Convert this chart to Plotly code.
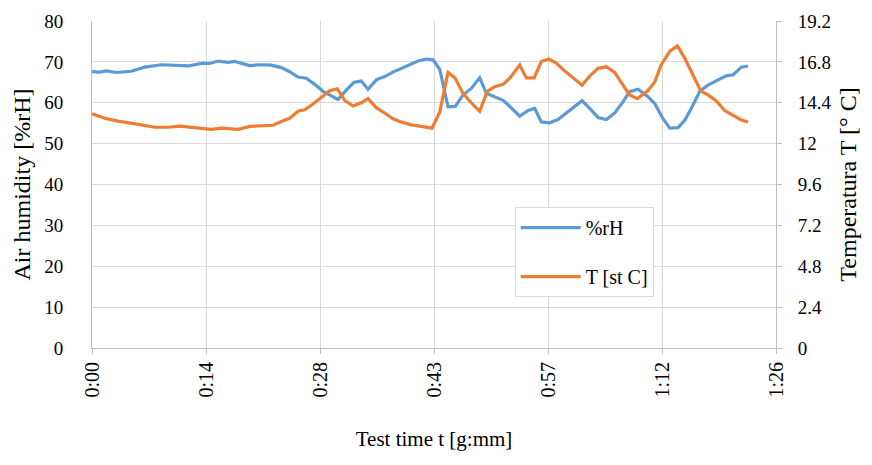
import plotly.graph_objects as go

# time in minutes
t_rh = [0.0, 0.97, 1.81, 3.07, 4.96, 6.66, 8.75, 10.86, 12.13, 14.02, 14.87, 15.92, 17.18, 18.03,
        18.86, 19.92, 21.18, 22.65, 23.91, 24.97, 26.02, 27.07, 28.13, 29.18, 30.23, 31.07, 32.12,
        33.10, 34.02, 34.86, 35.91, 36.97, 38.02, 39.07, 40.13, 41.18, 42.23, 43.07, 43.92, 44.46,
        44.97, 45.89, 46.86, 47.91, 48.97, 49.81, 50.87, 51.92, 52.55, 54.03, 55.08, 55.92, 56.76,
        57.82, 58.86, 60.13, 60.97, 61.90, 62.87, 63.92, 64.97, 66.03, 67.07, 67.92, 68.97, 70.23,
        71.08, 72.13, 72.98, 74.03, 74.87, 75.70, 76.77, 77.81, 79.08, 80.12, 80.97, 82.02, 82.87]
rh = [67.6, 67.5, 67.8, 67.4, 67.7, 68.7, 69.3, 69.0, 69.0, 69.7, 69.6, 70.2, 69.9, 70.1,
      69.7, 69.1, 69.3, 69.2, 68.6, 67.6, 66.3, 66.0, 64.5, 62.8, 61.7, 60.8, 63.1,
      65.0, 65.3, 63.3, 65.6, 66.4, 67.5, 68.4, 69.2, 70.2, 70.7, 70.5, 68.2, 63.5,
      59.0, 59.1, 61.9, 63.5, 66.1, 62.3, 61.4, 60.6, 59.5, 56.7, 58.1, 58.6, 55.3,
      55.1, 55.9, 57.9, 59.1, 60.5, 58.6, 56.4, 55.9, 57.5, 60.2, 62.7, 63.3, 61.5,
      59.8, 56.1, 53.8, 53.9, 55.7, 58.6, 62.8, 64.3, 65.6, 66.6, 66.8, 68.7, 69.0]

t_temp = [0.0, 1.60, 3.28, 4.96, 6.23, 7.92, 9.60, 11.08, 12.54, 14.24, 15.07, 16.33, 17.39, 18.44,
          19.92, 21.39, 22.86, 23.91, 24.97, 26.02, 26.87, 27.92, 28.97, 30.03, 30.99, 31.92, 32.97,
          34.02, 34.86, 35.91, 36.97, 38.02, 39.07, 40.33, 41.60, 42.95, 43.92, 44.46, 44.97, 45.89,
          46.86, 47.91, 48.97, 49.93, 50.87, 51.92, 52.77, 54.03, 54.86, 55.84, 56.76, 57.69, 58.65,
          59.71, 60.97, 61.90, 62.87, 63.92, 64.97, 66.03, 67.07, 67.92, 68.88, 69.82, 70.23, 71.08,
          71.91, 72.98, 73.94, 74.87, 75.92, 76.89, 77.81, 78.86, 79.92, 80.97, 82.02, 82.87]
temp = [13.75, 13.49, 13.32, 13.22, 13.10, 12.96, 12.96, 13.03, 12.96, 12.86, 12.84, 12.91, 12.89, 12.84,
        13.01, 13.06, 13.08, 13.30, 13.49, 13.90, 13.99, 14.33, 14.71, 15.10, 15.22, 14.54, 14.21,
        14.40, 14.64, 14.11, 13.80, 13.46, 13.27, 13.10, 13.01, 12.91, 13.85, 15.14, 16.18, 15.84,
        14.95, 14.40, 13.90, 15.07, 15.34, 15.48, 15.84, 16.61, 15.86, 15.86, 16.82, 16.97, 16.73,
        16.27, 15.77, 15.43, 15.96, 16.42, 16.51, 16.18, 15.43, 14.86, 14.64, 14.95, 15.12, 15.62,
        16.63, 17.42, 17.74, 17.02, 16.03, 15.10, 14.86, 14.50, 13.94, 13.66, 13.39, 13.27]

x_tickvals = [0, 14.4, 28.8, 43.2, 57.6, 72, 86.4]
x_ticktext = ["0:00", "0:14", "0:28", "0:43", "0:57", "1:12", "1:26"]
y2_tickvals = [0, 2.4, 4.8, 7.2, 9.6, 12, 14.4, 16.8, 19.2]
y2_ticktext = ["0", "2.4", "4.8", "7.2", "9.6", "12", "14.4", "16.8", "19.2"]

FONT = "Liberation Serif, 'Times New Roman', 'DejaVu Serif', serif"
GRID = "#d9d9d9"
AX = "#bfbfbf"

fig = go.Figure()
fig.add_trace(go.Scatter(x=t_rh, y=rh, mode="lines", name="%rH",
                         line=dict(color="#5B9BD5", width=3.2), legendgroup="a"))
fig.add_trace(go.Scatter(x=t_temp, y=temp, mode="lines", name="T [st C]", yaxis="y2",
                         line=dict(color="#ED7D31", width=3.2), legendgroup="b"))

fig.update_layout(
    width=872, height=465,
    margin=dict(l=92, r=96, t=21, b=117),
    paper_bgcolor="white", plot_bgcolor="white",
    font=dict(family=FONT, size=18, color="#000000"),
    showlegend=True,
    legend=dict(x=0.618, y=0.431, xanchor="left", yanchor="top",
                bgcolor="white", bordercolor=GRID, borderwidth=1,
                font=dict(family=FONT, size=20), traceorder="grouped",
                tracegroupgap=20, itemwidth=60,
                entrywidth=150, entrywidthmode="pixels"),
    xaxis=dict(range=[0, 86.4], tickvals=x_tickvals, ticktext=x_ticktext,
               tickangle=-90, showgrid=True, gridcolor=GRID, gridwidth=1,
               showline=True, linecolor=AX, linewidth=1, ticks="outside",
               ticklen=5, tickcolor=AX, zeroline=False,
               tickfont=dict(family=FONT, size=20),
               title=dict(text="Test time t [g:mm]", font=dict(family=FONT, size=21), standoff=34)),
    yaxis=dict(range=[0, 80], dtick=10, showgrid=True, gridcolor=GRID, gridwidth=1,
               showline=True, linecolor=AX, linewidth=1, zeroline=False,
               ticks="", ticklabelstandoff=24, tickfont=dict(family=FONT, size=19),
               title=dict(text="Air humidity [%rH]", font=dict(family=FONT, size=24), standoff=6)),
    yaxis2=dict(range=[0, 19.2], tickvals=y2_tickvals, ticktext=y2_ticktext,
                overlaying="y", side="right", showgrid=False, showline=True,
                linecolor=AX, linewidth=1, ticks="outside", ticklen=5, tickcolor=AX,
                ticklabelstandoff=12,
                zeroline=False, tickfont=dict(family=FONT, size=19),
                title=dict(text="Temperatura T [° C]", font=dict(family=FONT, size=24), standoff=8)),
)

fig.write_html("out.html")
